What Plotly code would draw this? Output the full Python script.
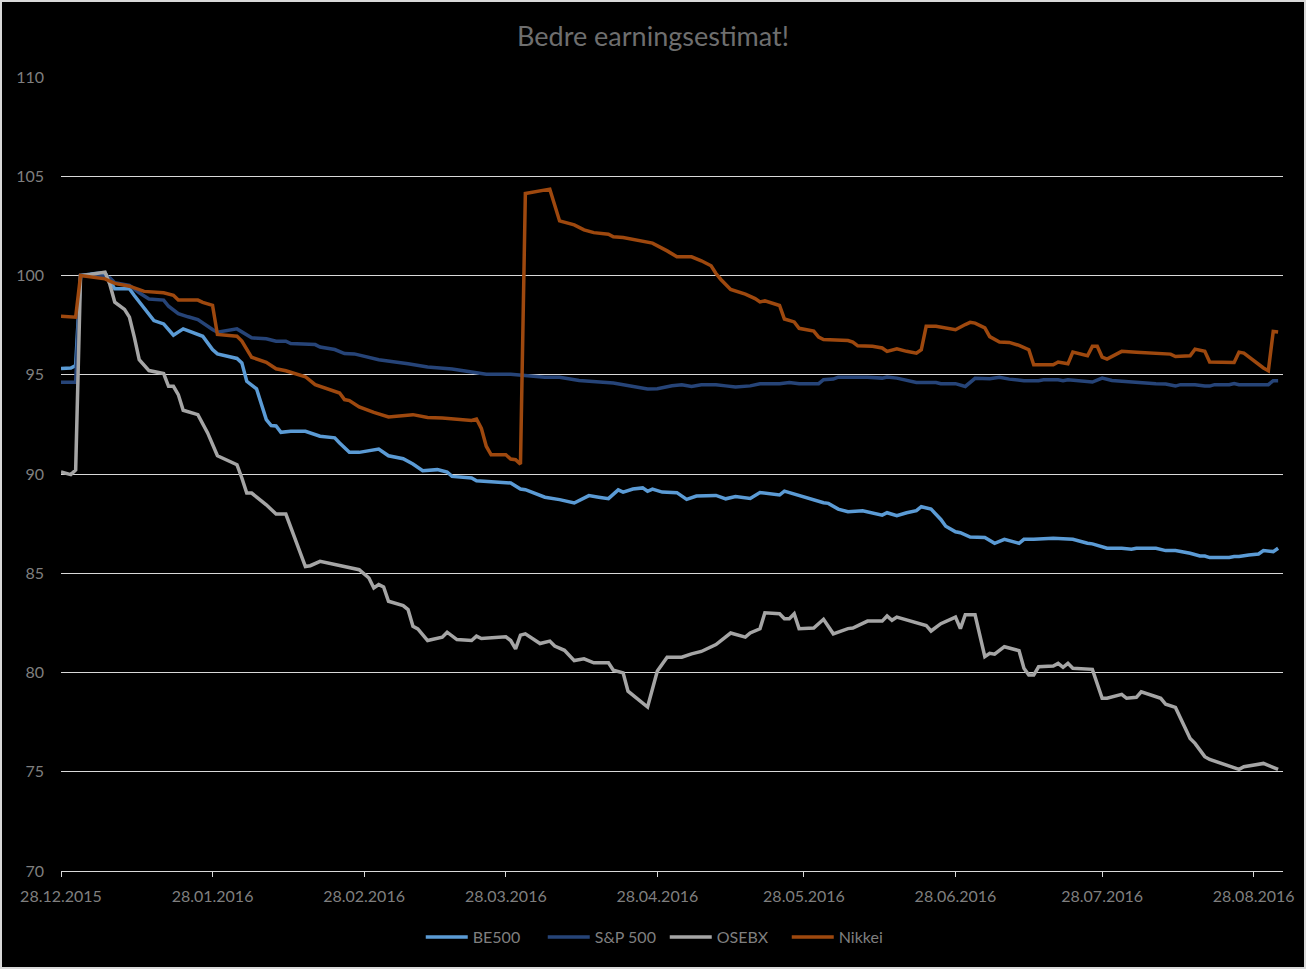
import plotly.graph_objects as go
import pandas as pd

START = "2015-12-28"

# x values: days since 28.12.2015
be500_day = [0, 2, 3, 4, 7, 9, 11, 14, 15, 17, 19, 21, 23, 25, 29, 31, 32, 36, 37, 38, 40, 42, 43, 44, 45, 47,
             50, 53, 56, 57, 59, 61, 65, 67, 70, 72, 74, 77, 79, 80, 84, 85, 92, 94, 95, 99, 102, 105, 108,
             110, 112, 114, 115, 117, 119, 120, 121, 123, 125, 126, 128, 130, 134, 136, 138, 141, 143, 147,
             148, 151, 152, 156, 157, 159, 161, 164, 168, 169, 171, 173, 175, 176, 178, 180, 181, 183, 184,
             186, 189, 191, 193, 196, 197, 199, 203, 207, 210, 211, 214, 217, 219, 220, 224, 226, 228, 231,
             233, 234, 235, 239, 240, 241, 243, 245, 246, 248, 249]
be500_val = [95.31, 95.34, 95.46, 100.0, 100.1, 100.13, 99.33, 99.33, 98.99, 98.37, 97.73, 97.56, 96.99, 97.31,
             96.94, 96.27, 96.05, 95.82, 95.6, 94.67, 94.29, 92.74, 92.44, 92.42, 92.1, 92.15,
             92.15, 91.9, 91.82, 91.56, 91.09, 91.09, 91.26, 90.92, 90.77, 90.5, 90.17, 90.22, 90.1, 89.88,
             89.8, 89.66, 89.55, 89.24, 89.21, 88.83, 88.71, 88.54, 88.91,
             88.83, 88.76, 89.2, 89.09, 89.24, 89.3, 89.13, 89.24, 89.09, 89.08, 89.06, 88.72, 88.89, 88.92,
             88.75, 88.86, 88.77, 89.07, 88.94,
             89.14, 88.91, 88.86, 88.55, 88.52, 88.23, 88.1, 88.15, 87.93, 88.05, 87.9, 88.05, 88.15, 88.35,
             88.23, 87.71, 87.37, 87.09, 87.04,
             86.82, 86.8, 86.51, 86.71, 86.51, 86.71, 86.71, 86.76, 86.71, 86.51, 86.48, 86.26, 86.26, 86.21,
             86.26, 86.26, 86.14, 86.14, 86.01,
             85.87, 85.87, 85.79, 85.79, 85.84, 85.84, 85.92, 85.97, 86.14, 86.09, 86.26]

sp500_day = [0, 3, 4, 8, 10, 11, 14, 16, 18, 21, 22, 24, 26, 28, 31, 32, 36, 38, 39, 42, 44, 46, 47, 52, 53,
             56, 58, 60, 63, 65, 71, 75, 80, 85, 87, 92, 95, 99, 102, 106, 113, 117, 120, 122, 125, 127, 129,
             131, 134, 136, 138, 141, 143, 147, 149, 151, 155, 156, 158, 159, 165, 168, 169, 171, 175, 179,
             180, 183, 185, 187, 190, 192, 194, 197, 200, 201, 204, 205, 206, 211, 213, 215, 218, 219, 220,
             224, 226, 228, 229, 232, 234, 235, 236, 239, 240, 241, 247, 248, 249]
sp500_val = [94.62, 94.62, 100.0, 100.0, 99.88, 99.63, 99.5, 99.13, 98.82, 98.76, 98.45, 98.08, 97.92, 97.78,
             97.28, 97.14, 97.31, 97.03, 96.86, 96.81, 96.69, 96.69, 96.57, 96.52, 96.4,
             96.27, 96.07, 96.05, 95.88, 95.76, 95.55, 95.39, 95.29, 95.12, 95.03, 95.03, 94.95, 94.88, 94.87,
             94.71, 94.58, 94.41, 94.28, 94.3, 94.45, 94.5, 94.41,
             94.5, 94.5, 94.44, 94.38, 94.44, 94.55, 94.55, 94.61, 94.55, 94.55, 94.75, 94.78, 94.88, 94.88,
             94.83, 94.88, 94.83, 94.61, 94.61,
             94.55, 94.55, 94.41, 94.82, 94.8, 94.87, 94.78, 94.7, 94.7, 94.75, 94.75, 94.7, 94.75, 94.63,
             94.83, 94.71, 94.65, 94.65, 94.6,
             94.55, 94.53, 94.43, 94.5, 94.5, 94.43, 94.43, 94.5, 94.5, 94.56, 94.5, 94.5, 94.7, 94.7]

osebx_day = [0, 2, 3, 4, 6, 9, 10, 11, 13, 14, 15, 16, 18, 21, 22, 23, 24, 25, 28, 30, 32, 36, 37, 38, 39,
             42, 44, 46, 50, 51, 53, 57, 59, 61, 63, 64, 65, 66, 67, 70, 71, 72, 73, 75, 78, 79, 81, 84, 85,
             86, 91, 92, 93, 94, 95, 98, 100, 101, 103, 105, 107, 109, 112, 113, 115, 116, 120, 122, 124,
             127, 129, 131, 134, 137, 140, 141, 143, 144, 147, 148, 149, 150, 151, 154, 156, 158, 161, 162,
             165, 168, 169, 170, 171, 175, 177, 178, 180, 183, 184, 185, 187, 189, 190, 191, 193, 196, 197,
             198, 199, 200, 203, 204, 205, 206, 207, 211, 213, 214, 217, 218, 220, 221, 225, 226, 228, 231,
             232, 234, 235, 241, 242, 246, 249]
osebx_val = [90.1, 89.97, 90.2, 100.0, 100.05, 100.17, 99.55, 98.66, 98.29, 97.9, 96.9, 95.76, 95.21, 95.06,
             94.42, 94.42, 94.0, 93.21, 92.99, 92.07, 90.92, 90.47, 89.8, 89.04, 89.04,
             88.45, 87.98, 87.98, 85.34, 85.38, 85.6, 85.38, 85.26, 85.18, 84.76, 84.26, 84.43, 84.31, 83.59,
             83.37, 83.17, 82.33, 82.2, 81.61, 81.78, 82.03, 81.66, 81.61, 81.83,
             81.71, 81.8, 81.61, 81.19, 81.88, 81.95, 81.46, 81.58, 81.33, 81.12, 80.6, 80.69, 80.49, 80.49,
             80.12, 79.98, 79.06, 78.26, 80.07, 80.77,
             80.77, 80.94, 81.06, 81.41, 81.99, 81.78, 81.99, 82.2, 83.01, 82.96, 82.71, 82.71, 82.96, 82.21,
             82.24, 82.68, 81.95, 82.21, 82.24,
             82.59, 82.59, 82.85, 82.63, 82.79, 82.54, 82.37, 82.09, 82.46, 82.79, 82.21, 82.91, 82.91, 80.8,
             80.97, 80.92, 81.3, 81.1, 80.21,
             79.87, 79.87, 80.29, 80.33, 80.46, 80.26, 80.46, 80.21, 80.16, 78.7, 78.7, 78.9, 78.7, 78.75,
             79.03, 78.7, 78.4, 78.24, 76.68,
             76.43, 75.76, 75.62, 75.12, 75.25, 75.42, 75.12]

nikkei_day = [0, 3, 4, 9, 11, 14, 17, 21, 23, 24, 28, 29, 31, 32, 36, 37, 39, 42, 44, 46, 50, 52, 57, 58, 59,
              61, 64, 65, 67, 72, 75, 78, 81, 84, 85, 86, 87, 88, 91, 92, 93, 94, 95, 100, 102, 105, 107,
              109, 112, 113, 115, 119, 121, 124, 126, 129, 131, 133, 134, 135, 137, 140, 142, 143, 144, 147,
              148, 150, 151, 154, 155, 156, 161, 162, 163, 166, 168, 169, 171, 173, 175, 176, 177, 179, 183,
              185, 186, 187, 189, 190, 192, 194, 196, 198, 199, 203, 204, 206, 207, 210, 211, 212, 213, 214,
              217, 220, 224, 227, 228, 231, 232, 234, 235, 239, 240, 241, 242, 246, 247, 248, 249]
nikkei_val = [97.95, 97.9, 100.0, 99.83, 99.6, 99.46, 99.2, 99.13, 99.0, 98.76, 98.76, 98.65, 98.5, 97.03,
              96.94, 96.7, 95.88, 95.63, 95.3, 95.2, 94.9, 94.5, 94.08, 93.75, 93.7,
              93.38, 93.1, 93.02, 92.87, 92.99, 92.85, 92.82, 92.77, 92.7, 92.77, 92.3, 91.4, 90.97, 90.97,
              90.75, 90.72, 90.5, 104.13, 104.35, 102.75, 102.55, 102.3,
              102.16, 102.08, 101.95, 101.91, 101.71, 101.63, 101.24, 100.94, 100.94, 100.74, 100.49, 100.1,
              99.8, 99.3, 99.06, 98.84, 98.67, 98.72, 98.49,
              97.81, 97.66, 97.34, 97.2, 96.9, 96.77, 96.72, 96.65, 96.46, 96.43, 96.35, 96.18, 96.31, 96.18,
              96.09, 96.26, 97.44, 97.44, 97.27,
              97.53, 97.64, 97.6, 97.36, 96.92, 96.65, 96.63, 96.48, 96.26, 95.5, 95.5, 95.64, 95.55, 96.14,
              95.96, 96.43, 96.43, 95.89, 95.79,
              96.18, 96.13, 96.09, 96.04, 95.92, 95.96, 96.29, 96.18, 95.64, 95.64, 95.62, 96.14, 96.09, 95.34,
              95.2, 97.18, 97.15]

tick_dates = ["2015-12-28", "2016-01-28", "2016-02-28", "2016-03-28", "2016-04-28",
              "2016-05-28", "2016-06-28", "2016-07-28", "2016-08-28"]
tick_labels = ["28.12.2015", "28.01.2016", "28.02.2016", "28.03.2016", "28.04.2016",
               "28.05.2016", "28.06.2016", "28.07.2016", "28.08.2016"]

series = [
    ("BE500", be500_day, be500_val, "#5B9BD5"),
    ("S&P 500", sp500_day, sp500_val, "#264478"),
    ("OSEBX", osebx_day, osebx_val, "#A5A5A5"),
    ("Nikkei", nikkei_day, nikkei_val, "#9E480E"),
]

start = pd.Timestamp(START)


def to_dates(days):
    return [start + pd.Timedelta(days=d) for d in days]


FONT = "Lato"
TXT = "#7f7f7f"
GRID = "#d9d9d9"

fig = go.Figure()
for name, days, vals, color in series:
    fig.add_trace(go.Scatter(x=to_dates(days), y=vals, mode="lines", name=name,
                             line=dict(color=color, width=3.5)))

W, H = 1306, 969
ML, MR, MT, MB = 61, 23, 77, 98
PW, PH = W - ML - MR, H - MT - MB

fig.update_layout(
    width=W, height=H,
    margin=dict(l=ML, r=MR, t=MT, b=MB),
    paper_bgcolor="black", plot_bgcolor="black",
    font=dict(family=FONT, color=TXT, size=16),
    title=dict(text="Bedre earningsestimat!", x=0.5, xref="container", xanchor="center",
               y=1 - 37 / H, yref="container", yanchor="middle",
               font=dict(family=FONT, size=27, color="#6e6e6e")),
    showlegend=True,
    legend=dict(orientation="h", x=0.509, xref="container", xanchor="center",
                y=1 - 937 / H, yref="container", yanchor="middle",
                font=dict(family=FONT, size=16, color=TXT), itemwidth=42,
                entrywidth=65, entrywidthmode="pixels",
                bgcolor="rgba(0,0,0,0)"),
    xaxis=dict(type="date", range=[start, start + pd.Timedelta(days=250)],
               tickvals=tick_dates, ticktext=tick_labels,
               showgrid=False, zeroline=False, showline=True, linecolor=GRID, linewidth=1,
               ticks="outside", ticklen=5, tickcolor=GRID, tickwidth=1,
               tickfont=dict(family=FONT, size=16, color=TXT), ticklabelstandoff=6),
    yaxis=dict(range=[70, 110], dtick=5, tick0=70, showgrid=True, gridcolor=GRID, gridwidth=1,
               zeroline=False, showline=False, ticks="",
               tickfont=dict(family=FONT, size=16, color=TXT), ticklabelstandoff=16),
    shapes=[dict(type="rect", xref="paper", yref="paper",
                 x0=-ML / PW, x1=1 + MR / PW, y0=-MB / PH, y1=1 + MT / PH,
                 line=dict(color="#d9d9d9", width=4), fillcolor="rgba(0,0,0,0)")],
)

fig.write_html("out.html")
